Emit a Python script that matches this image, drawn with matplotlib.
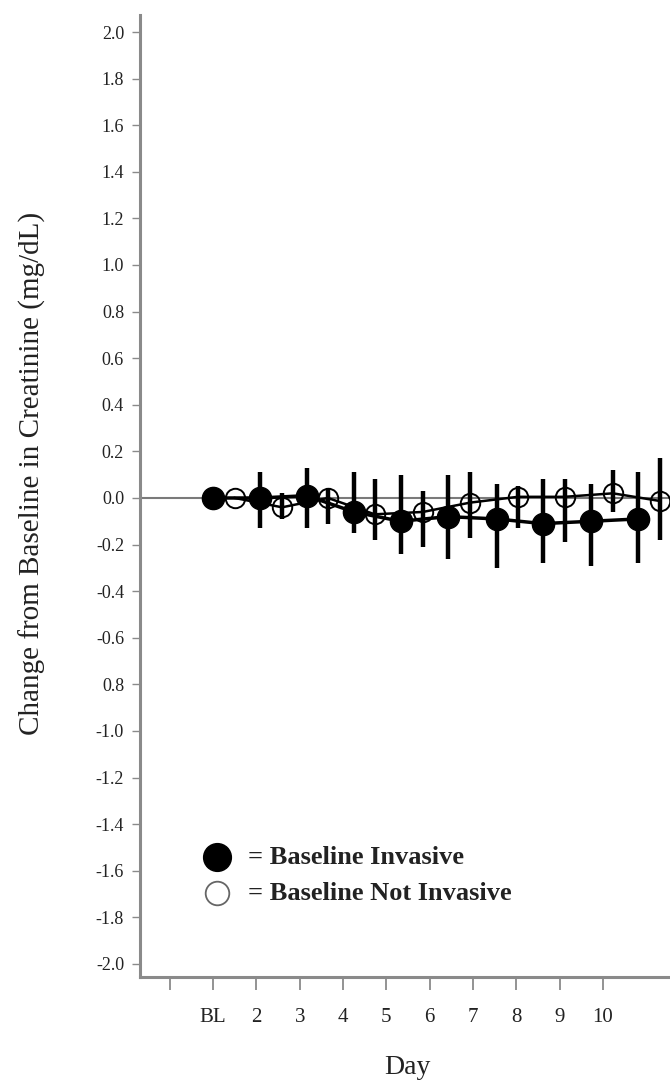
import matplotlib
matplotlib.use("Agg")
import matplotlib.pyplot as plt
import numpy as np

# tick positions: unlabeled first tick, then BL, 2..10
tick_pos = list(range(0, 11))
tick_labels = ["", "BL", "2", "3", "4", "5", "6", "7", "8", "9", "10"]

y_ticks = [2.0, 1.8, 1.6, 1.4, 1.2, 1.0, 0.8, 0.6, 0.4, 0.2, 0.0,
           -0.2, -0.4, -0.6, -0.8, -1.0, -1.2, -1.4, -1.6, -1.8, -2.0]
y_labels = ["2.0", "1.8", "1.6", "1.4", "1.2", "1.0", "0.8", "0.6", "0.4", "0.2", "0.0",
            "-0.2", "-0.4", "-0.6", "0.8", "-1.0", "-1.2", "-1.4", "-1.6", "-1.8", "-2.0"]

# Baseline invasive (filled)
inv_x = [0.99, 2.08, 3.16, 4.25, 5.33, 6.42, 7.55, 8.61, 9.72, 10.81]
inv_y = [0.00, 0.00, 0.01, -0.06, -0.10, -0.08, -0.09, -0.11, -0.10, -0.09]
inv_hi = [0.00, 0.11, 0.13, 0.11, 0.10, 0.10, 0.06, 0.08, 0.06, 0.11]
inv_lo = [0.00, -0.13, -0.13, -0.15, -0.24, -0.26, -0.30, -0.28, -0.29, -0.28]

# Baseline not invasive (open)
non_x = [1.50, 2.59, 3.65, 4.73, 5.84, 6.93, 8.04, 9.12, 10.23, 11.32]
non_y = [0.00, -0.04, 0.00, -0.07, -0.06, -0.02, 0.005, 0.005, 0.02, -0.013]
non_hi = [0.00, 0.02, 0.04, 0.08, 0.03, 0.11, 0.05, 0.08, 0.12, 0.17]
non_lo = [0.00, -0.09, -0.11, -0.18, -0.21, -0.17, -0.13, -0.19, -0.06, -0.18]

serif = ["Liberation Serif", "DejaVu Serif"]
txt = "#222222"
spine_c = "#8a8a8a"

fig = plt.figure(figsize=(6.7, 10.8), dpi=100)
ax = fig.add_axes([140 / 670, 1 - 977 / 1080, 530 / 670, 962 / 1080])

ax.axhline(0, color="#7a7a7a", lw=1.5, zorder=1)

def draw(x, y, hi, lo, filled):
    x = np.array(x); y = np.array(y)
    yerr = [y - np.array(lo), np.array(hi) - y]
    ax.errorbar(x, y, yerr=yerr, fmt="none", ecolor="black", elinewidth=3.2,
                capsize=0, zorder=3)
    if filled:
        ax.plot(x, y, color="black", lw=2.5, marker="o", ms=16,
                mfc="black", mec="black", zorder=4)
    else:
        ax.plot(x, y, color="black", lw=1.8, marker="o", ms=14,
                mfc="none", mec="black", mew=1.4, zorder=4)

draw(non_x, non_y, non_hi, non_lo, False)
draw(inv_x, inv_y, inv_hi, inv_lo, True)

ax.set_xlim(-0.69, 11.55)
ax.set_ylim(-2.056, 2.073)

ax.set_xticks(tick_pos)
ax.set_xticklabels(tick_labels, family=serif, fontsize=15, color=txt)
ax.set_yticks(y_ticks)
ax.set_yticklabels(y_labels, family=serif, fontsize=13, color=txt)
ax.tick_params(axis="x", length=9, width=1.3, color=spine_c, pad=13)
ax.tick_params(axis="y", length=5.5, width=1.0, color=spine_c, pad=6)

for s in ["top", "right"]:
    ax.spines[s].set_visible(False)
for s in ["left", "bottom"]:
    ax.spines[s].set_color(spine_c)
    ax.spines[s].set_linewidth(2.2)

# legend
ax.plot([0.145], [0.1247], transform=ax.transAxes, marker="o", ms=20,
        mfc="black", mec="black", clip_on=False)
ax.plot([0.145], [0.0873], transform=ax.transAxes, marker="o", ms=17,
        mfc="none", mec="#666666", mew=1.3, clip_on=False)
ax.text(0.2038, 0.1247, "= Baseline Invasive", transform=ax.transAxes,
        family=serif, fontsize=19, fontweight="bold", color=txt, va="center")
ax.text(0.2038, 0.0873, "= Baseline Not Invasive", transform=ax.transAxes,
        family=serif, fontsize=19, fontweight="bold", color=txt, va="center")

fig.text(32 / 670, 1 - 473 / 1080, "Change from Baseline in Creatinine (mg/dL)",
         rotation=90, family=serif, fontsize=21, color=txt,
         ha="center", va="center")
fig.text(407 / 670, 1 - 1067 / 1080, "Day", family=serif, fontsize=20,
         color=txt, ha="center", va="center")

fig.savefig("out.png", dpi=100)
